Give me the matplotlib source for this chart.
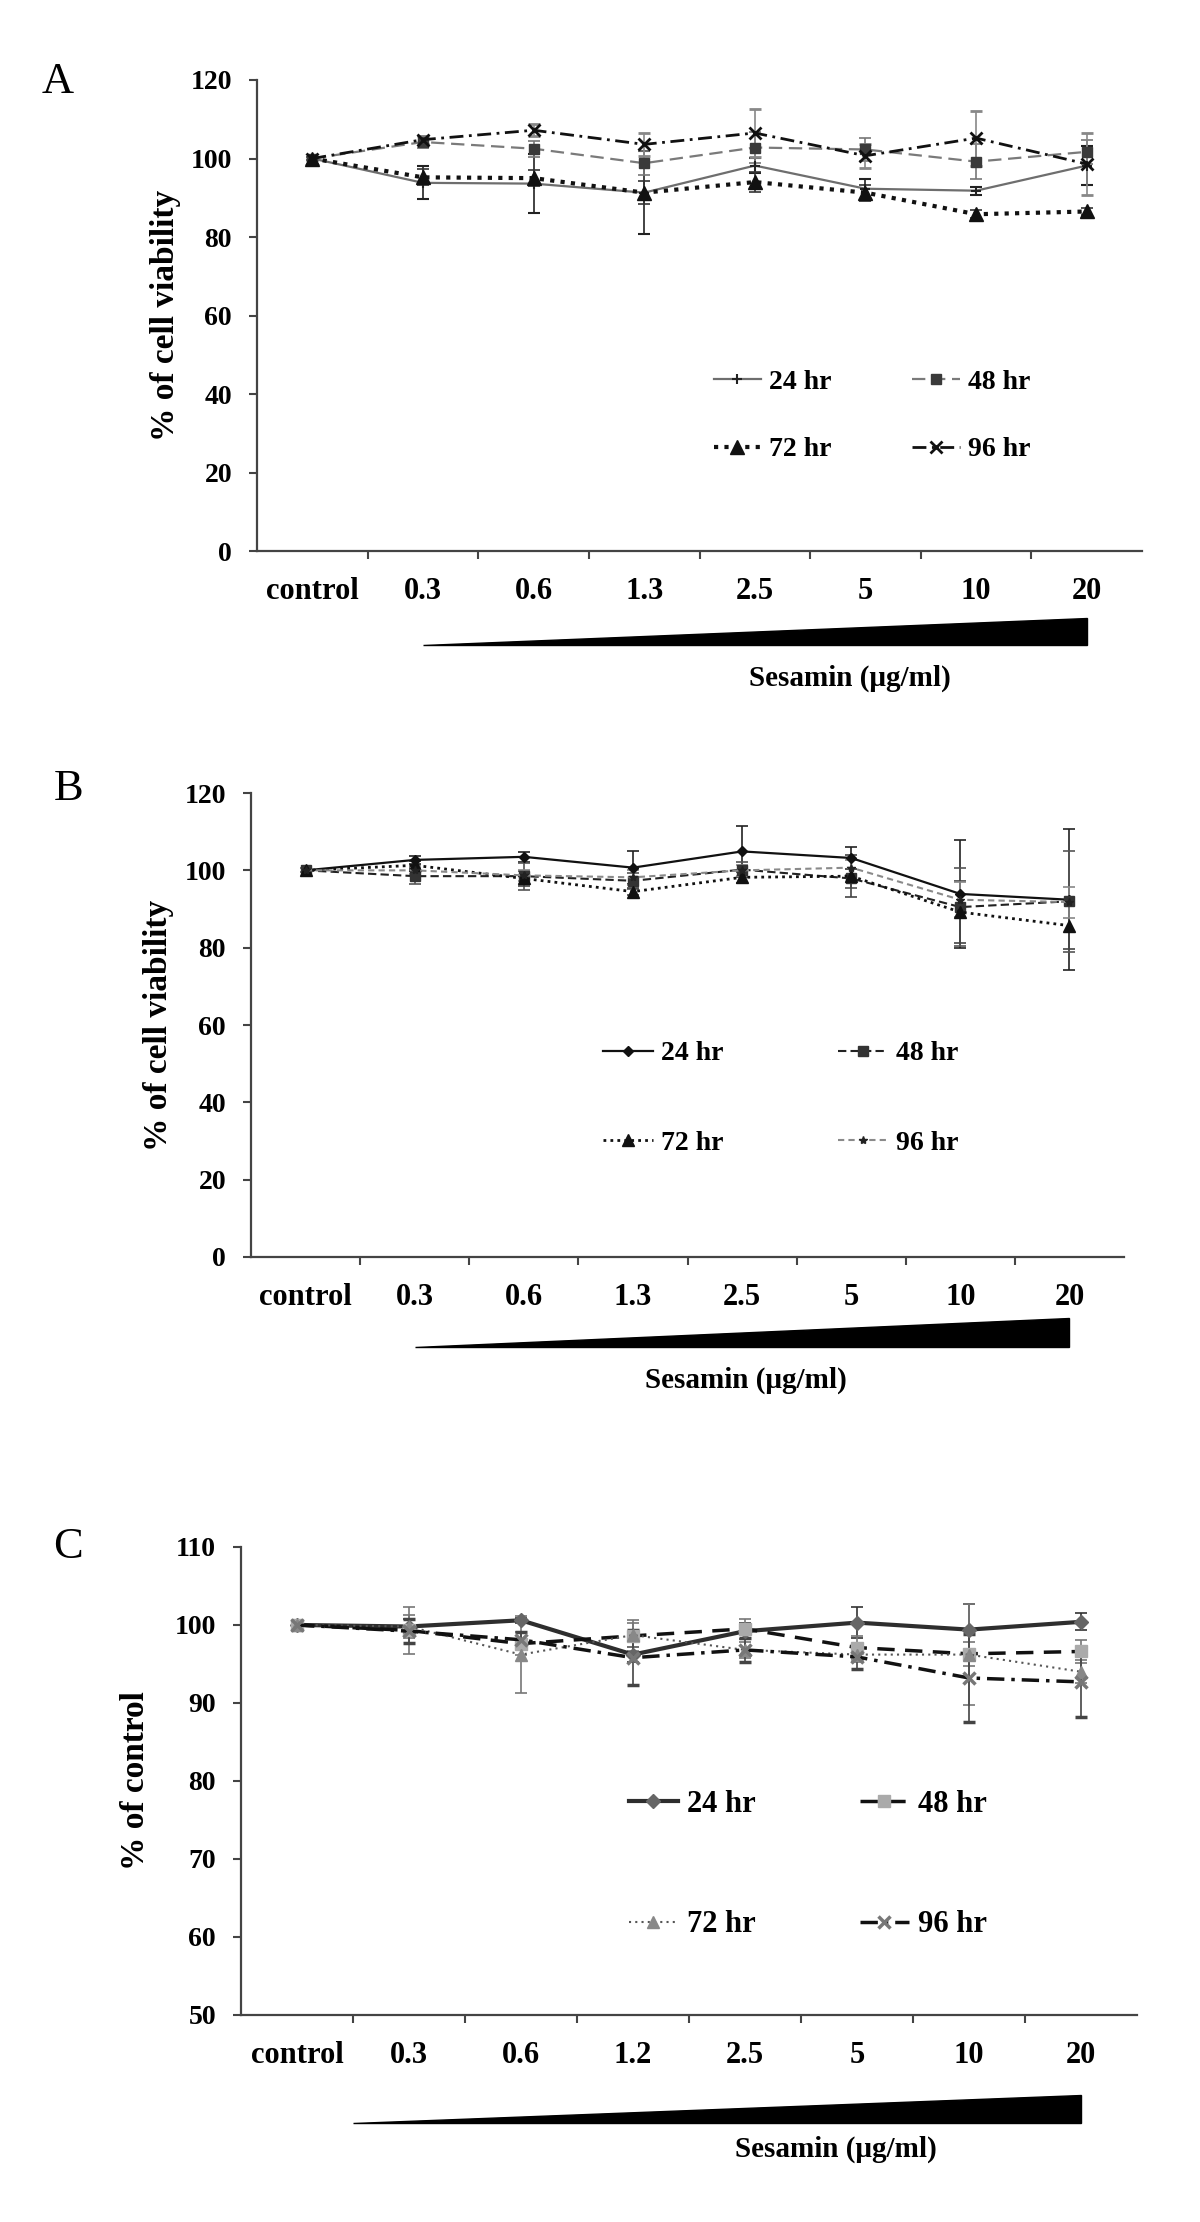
import matplotlib
matplotlib.use('Agg')
import matplotlib.pyplot as plt
import matplotlib.transforms as mtransforms
from matplotlib.patches import Polygon
import numpy as np

plt.rcParams['font.family'] = ['Liberation Serif', 'DejaVu Serif']
plt.rcParams['font.weight'] = 'bold'

doses_ab = ['control', '0.3', '0.6', '1.3', '2.5', '5', '10', '20']
doses_c = ['control', '0.3', '0.6', '1.2', '2.5', '5', '10', '20']
times = ['24 hr', '48 hr', '72 hr', '96 hr']

# panel A - % of cell viability
a_24 = [100, 93.8, 93.6, 91.3, 98.2, 92.3, 91.8, 98.2]
a_48 = [100, 104.2, 102.5, 98.8, 102.8, 102.3, 99.2, 101.7]
a_72 = [100, 95.2, 95.0, 91.3, 94.0, 91.3, 85.8, 86.5]
a_96 = [100, 104.8, 107.2, 103.6, 106.5, 100.7, 105.2, 98.6]
a_24_err = [0.5, 4.2, 7.5, 10.6, 2.0, 2.5, 1.0, 5.0]
a_48_err = [0.5, 1.5, 2.0, 3.0, 4.0, 3.0, 4.5, 3.0]
a_72_err = [0.5, 2.0, 2.0, 3.0, 2.5, 2.0, 1.0, 1.0]
a_96_err = [0.5, 1.0, 1.5, 3.0, 6.2, 3.0, 7.0, 8.0]

# panel B
b_24 = [100, 102.7, 103.5, 100.7, 104.9, 103.2, 93.9, 92.4]
b_48 = [100, 98.5, 98.5, 97.3, 100.2, 97.9, 90.5, 92.0]
b_72 = [100, 101.3, 97.9, 94.5, 98.2, 98.5, 89.2, 85.7]
b_96 = [100, 100.0, 98.7, 98.2, 100.0, 100.7, 92.4, 91.8]
b_24_err = [0.5, 1.0, 1.3, 4.2, 6.6, 2.9, 14.0, 18.3]
b_48_err = [0.5, 2.0, 3.5, 2.0, 2.0, 2.5, 10.0, 13.0]
b_72_err = [0.5, 1.0, 2.0, 1.0, 1.5, 5.5, 8.0, 6.0]
b_96_err = [0.5, 1.0, 1.5, 2.0, 1.5, 2.0, 4.5, 4.0]

# panel C - % of control
c_24 = [100, 99.8, 100.6, 96.2, 99.2, 100.3, 99.4, 100.4]
c_48 = [100, 99.3, 97.6, 98.6, 99.5, 97.1, 96.3, 96.6]
c_72 = [100, 99.8, 96.2, 98.7, 96.8, 96.2, 96.2, 94.0]
c_96 = [100, 99.2, 98.1, 95.8, 96.8, 95.9, 93.2, 92.7]
c_24_err = [0.3, 1.0, 0.3, 1.0, 1.0, 2.0, 3.3, 1.1]
c_48_err = [0.3, 3.0, 1.5, 2.0, 1.3, 1.5, 1.5, 1.5]
c_72_err = [0.3, 1.5, 4.9, 1.5, 1.0, 1.0, 6.5, 1.5]
c_96_err = [0.3, 1.5, 1.0, 3.5, 1.5, 1.5, 5.7, 4.5]

styles_a = [
    dict(color='#6e6e6e', lw=1.6, ls='-', marker='+', ms=7, mec='#222222', mew=1.5),
    dict(color='#7a7a7a', lw=1.6, ls=(0, (6, 3)), marker='s', ms=7, mec='#3a3a3a', mfc='#3a3a3a'),
    dict(color='#111111', lw=3, ls=(0, (1, 1.5)), marker='^', ms=10, mec='#111111', mfc='#111111'),
    dict(color='#111111', lw=2, ls=(0, (5, 2, 1, 2)), marker='x', ms=8, mec='#111111', mew=2),
]
ecol_a = ['#222222', '#777777', '#333333', '#888888']

styles_b = [
    dict(color='#111111', lw=1.6, ls='-', marker='D', ms=5, mec='#111111', mfc='#111111'),
    dict(color='#222222', lw=1.5, ls=(0, (4, 2)), marker='s', ms=7, mec='#333333', mfc='#333333'),
    dict(color='#111111', lw=2, ls=(0, (1, 1.5)), marker='^', ms=8, mec='#111111', mfc='#111111'),
    dict(color='#8a8a8a', lw=1.5, ls=(0, (3, 2)), marker='*', ms=6, mec='#222222', mfc='#222222'),
]
ecol_b = ['#222222', '#555555', '#444444', '#888888']

styles_c = [
    dict(color='#2e2e2e', lw=3, ls='-', marker='D', ms=7, mec='#666666', mfc='#666666'),
    dict(color='#111111', lw=2.5, ls=(0, (5, 3)), marker='s', ms=9, mec='#aaaaaa', mfc='#aaaaaa'),
    dict(color='#555555', lw=1.5, ls=(0, (1, 2)), marker='^', ms=8, mec='#888888', mfc='#888888'),
    dict(color='#111111', lw=2.5, ls=(0, (5, 2, 1, 2)), marker='x', ms=8, mec='#777777', mew=2.5),
]
ecol_c = ['#333333', '#777777', '#777777', '#444444']

x = np.arange(8)
fig = plt.figure(figsize=(12, 22.22), dpi=100)


def panel(rect, labels, ys, errs, styles, ecols, ylim, ystep, ylabel, ylab_x,
          leg_xy, leg_kw, wedge, ses_xy, letter, letter_xy):
    ax = fig.add_axes(rect)
    conts = []
    for y, e, st, ec in zip(ys, errs, styles, ecols):
        c = ax.errorbar(x, y, yerr=e, ecolor=ec, elinewidth=1.2, capsize=4,
                        capthick=1.2, clip_on=False, **st)
        conts.append(c[0])
    ax.set_xlim(-0.5, 7.5)
    ax.set_ylim(*ylim)
    for s in ['top', 'right']:
        ax.spines[s].set_visible(False)
    for s in ['left', 'bottom']:
        ax.spines[s].set_color('#444444')
        ax.spines[s].set_linewidth(1.6)
    ax.set_xticks(np.arange(0.5, 7.5, 1))
    ax.set_xticklabels([])
    ax.set_xticks(x, minor=True)
    ax.set_xticklabels(labels, minor=True)
    ax.tick_params(axis='x', which='major', direction='out', length=6, width=1.5, color='#444444')
    ax.tick_params(axis='x', which='minor', length=0, pad=19, labelsize=22)
    ax.set_yticks(np.arange(ylim[0], ylim[1] + 1, ystep))
    ax.tick_params(axis='y', direction='out', length=6, width=1.5, color='#444444',
                   labelsize=20, pad=12)
    ax.set_ylabel(ylabel, fontsize=24, fontweight='bold')
    ax.yaxis.set_label_coords(ylab_x, 0.5)

    order = [0, 2, 1, 3]
    ax.legend([conts[i] for i in order], [times[i] for i in order], ncol=2,
              loc='upper left', bbox_to_anchor=leg_xy, frameon=False, numpoints=1,
              borderpad=0, borderaxespad=0, handletextpad=0.3,
              prop={'weight': 'bold', 'size': leg_kw['size']},
              handlelength=leg_kw['hl'], columnspacing=leg_kw['cs'],
              labelspacing=leg_kw['ls'])

    trans = mtransforms.blended_transform_factory(ax.transData, ax.transAxes)
    x0, x1, yb, yt = wedge
    ax.add_patch(Polygon([(x0, yb), (x1, yb), (x1, yt)], closed=True,
                         facecolor='black', edgecolor='black', transform=trans,
                         clip_on=False))
    ax.text(ses_xy[0], ses_xy[1], 'Sesamin (\u03bcg/ml)', transform=trans,
            ha='center', va='center', fontsize=21, fontweight='bold')
    fig.text(letter_xy[0], letter_xy[1], letter, fontsize=32, fontweight='normal',
             ha='center', va='center')
    return ax


panel([0.2142, 0.752, 0.7375, 0.212], doses_ab, [a_24, a_48, a_72, a_96],
      [a_24_err, a_48_err, a_72_err, a_96_err], styles_a, ecol_a, (0, 120), 20,
      '% of cell viability', -0.086, (0.516, 0.385),
      dict(size=20, hl=1.7, cs=2.9, ls=1.5), (1.0, 7.0, -0.2, -0.142),
      (4.86, -0.27), 'A', (0.048, 0.963))

panel([0.2092, 0.4343, 0.7275, 0.2088], doses_ab, [b_24, b_48, b_72, b_96],
      [b_24_err, b_48_err, b_72_err, b_96_err], styles_b, ecol_b, (0, 120), 20,
      '% of cell viability', -0.088, (0.403, 0.466),
      dict(size=20, hl=1.8, cs=4.1, ls=2.3), (1.0, 7.0, -0.194, -0.131),
      (4.03, -0.265), 'B', (0.057, 0.645))

panel([0.2008, 0.0932, 0.7467, 0.2106], doses_c, [c_24, c_48, c_72, c_96],
      [c_24_err, c_48_err, c_72_err, c_96_err], styles_c, ecol_c, (50, 110), 10,
      '% of control', -0.10, (0.433, 0.481),
      dict(size=22, hl=1.6, cs=3.4, ls=3.0), (0.5, 7.0, -0.231, -0.171),
      (4.81, -0.288), 'C', (0.057, 0.304))

fig.savefig('out.png', dpi=100)
